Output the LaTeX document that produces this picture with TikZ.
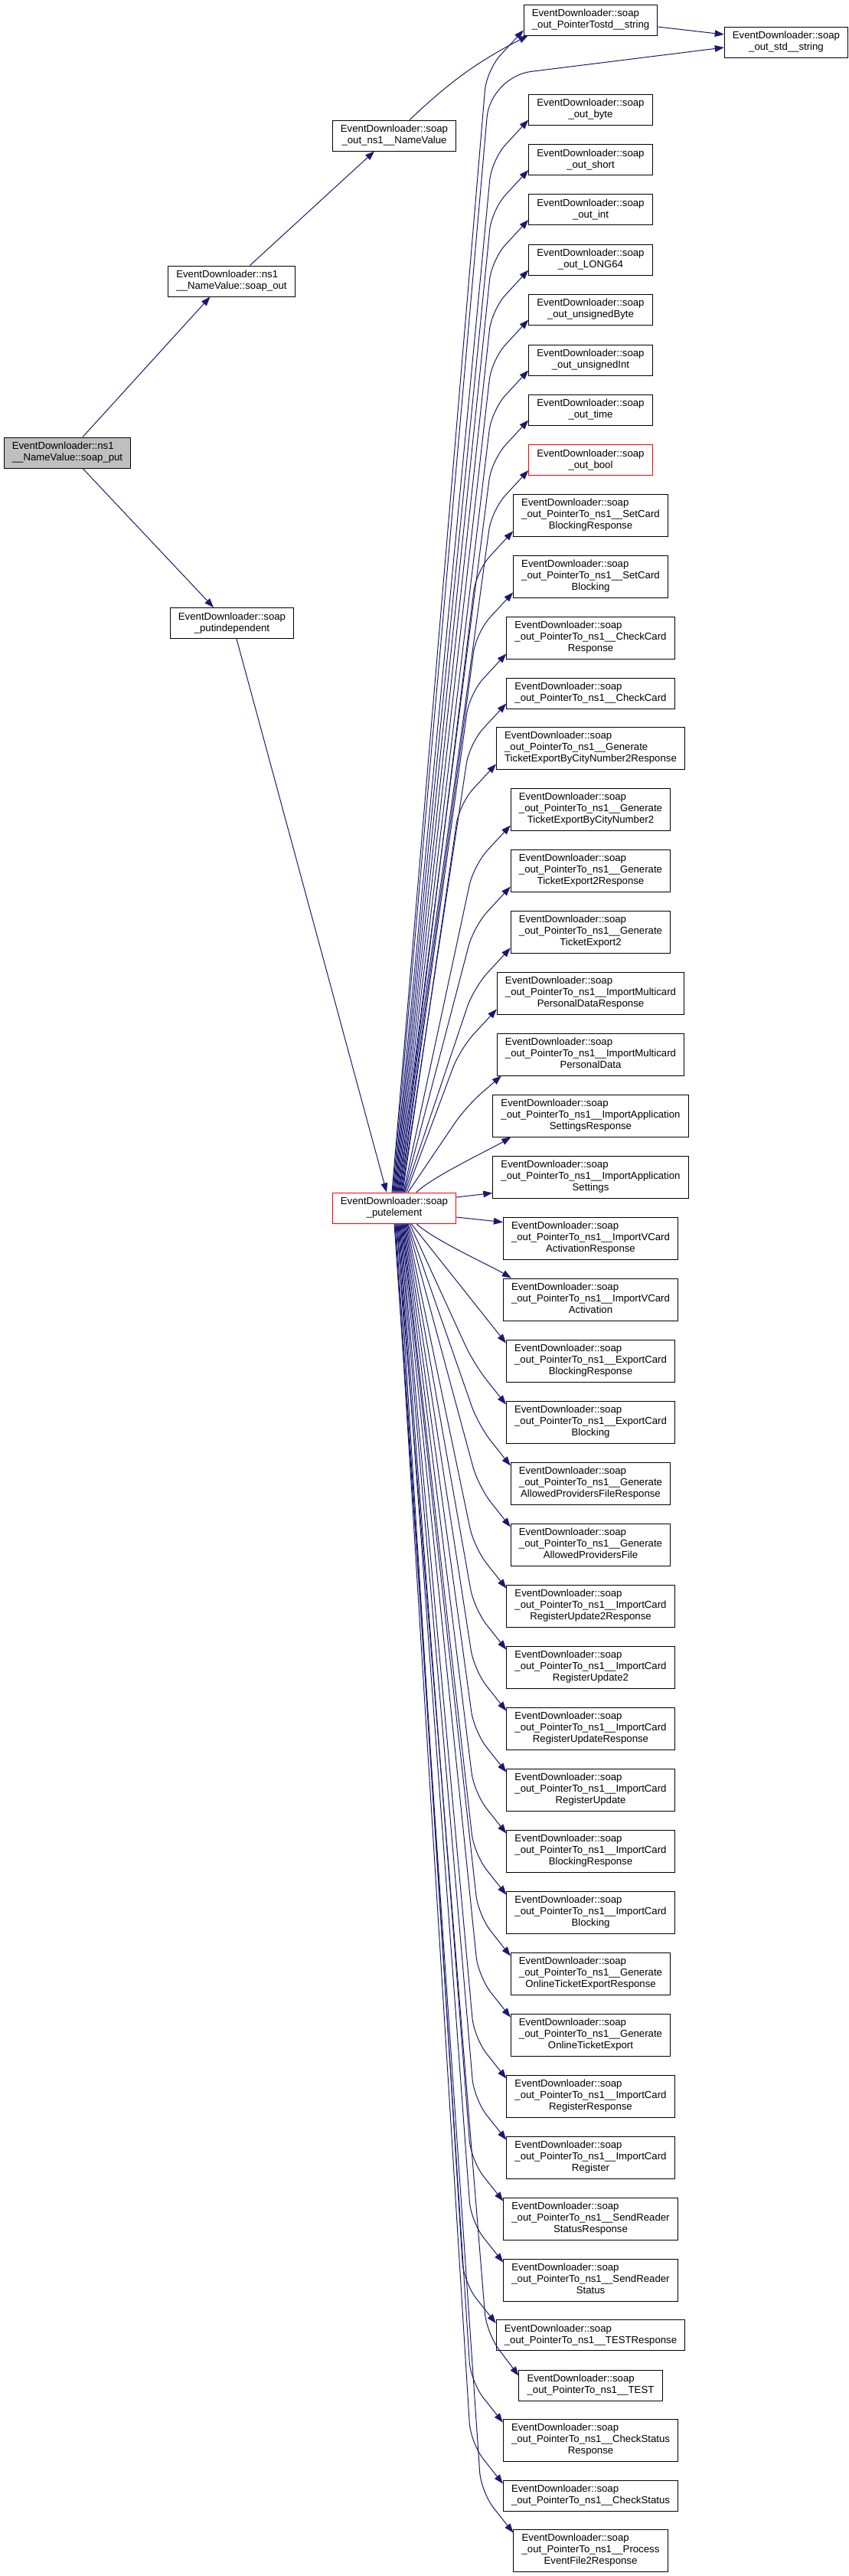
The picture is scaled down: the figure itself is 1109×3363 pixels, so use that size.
\documentclass[tikz,border=0pt]{standalone}
\usepackage{fontspec}
\setmainfont{Liberation Sans}
\usepackage{tikz}
\usetikzlibrary{arrows.meta}
\definecolor{callblue}{HTML}{191970}
\definecolor{selgrey}{HTML}{BFBFBF}
\newcommand{\lbltwo}[2]{\begin{tabular}{@{}l@{}}#1\\\multicolumn{1}{@{}c@{}}{#2}\end{tabular}}
\newcommand{\lblthree}[3]{\begin{tabular}{@{}l@{}}#1\\#2\\\multicolumn{1}{@{}c@{}}{#3}\end{tabular}}
\begin{document}
\begin{tikzpicture}[x=0.75pt,y=-0.75pt,
	fn/.style={draw=black,fill=white,line width=0.75pt,inner xsep=8pt,inner ysep=3.75pt,font=\fontsize{9.9pt}{11.25pt}\selectfont},
	fnred/.style={fn,draw=red},
	fnsel/.style={fn,fill=selgrey},
	call/.style={draw=callblue,line width=0.75pt,-{Triangle[length=9pt,width=6.5pt]}},
	fan/.style={call,rounded corners=20pt}]
		\useasboundingbox (0,0) rectangle (1109,3363);
		% callers
		\node[fnsel](put) at (88,591){\lbltwo{EventDownloader::ns1}{\_\_NameValue::soap\_put}};
		\node[fn](sout) at (302.5,367){\lbltwo{EventDownloader::ns1}{\_\_NameValue::soap\_out}};
		\node[fn](indep) at (303,813.5){\lbltwo{EventDownloader::soap}{\_putindependent}};
		\node[fn](nv) at (515,177){\lbltwo{EventDownloader::soap}{\_out\_ns1\_\_NameValue}};
		\node[fnred](pe) at (515,1577){\lbltwo{EventDownloader::soap}{\_putelement}};
		\node[fn](ptr) at (771.5,26){\lbltwo{EventDownloader::soap}{\_out\_PointerTostd\_\_string}};
		\node[fn](stdstr) at (1027,55){\lbltwo{EventDownloader::soap}{\_out\_std\_\_string}};
		% simple types
		\node[fn](byte) at (771.5,143){\lbltwo{EventDownloader::soap}{\_out\_byte}};
		\node[fn](short) at (771.5,208.5){\lbltwo{EventDownloader::soap}{\_out\_short}};
		\node[fn](int) at (771.5,273.5){\lbltwo{EventDownloader::soap}{\_out\_int}};
		\node[fn](long) at (771.5,339){\lbltwo{EventDownloader::soap}{\_out\_LONG64}};
		\node[fn](ubyte) at (771.5,404){\lbltwo{EventDownloader::soap}{\_out\_unsignedByte}};
		\node[fn](uint) at (771.5,470){\lbltwo{EventDownloader::soap}{\_out\_unsignedInt}};
		\node[fn](time) at (771.5,535){\lbltwo{EventDownloader::soap}{\_out\_time}};
		\node[fnred](bool) at (771.5,600.5){\lbltwo{EventDownloader::soap}{\_out\_bool}};
		% pointer types
		\node[fn](scbr) at (771.5,672.5){\lblthree{EventDownloader::soap}{\_out\_PointerTo\_ns1\_\_SetCard}{BlockingResponse}};
		\node[fn](scb) at (771.5,752.5){\lblthree{EventDownloader::soap}{\_out\_PointerTo\_ns1\_\_SetCard}{Blocking}};
		\node[fn](ccr) at (771.5,832.5){\lblthree{EventDownloader::soap}{\_out\_PointerTo\_ns1\_\_CheckCard}{Response}};
		\node[fn](cc) at (771.5,905){\lbltwo{EventDownloader::soap}{\_out\_PointerTo\_ns1\_\_CheckCard}};
		\node[fn](gcnr) at (771.5,976.5){\lblthree{EventDownloader::soap}{\_out\_PointerTo\_ns1\_\_Generate}{TicketExportByCityNumber2Response}};
		\node[fn](gcn) at (771.5,1056.5){\lblthree{EventDownloader::soap}{\_out\_PointerTo\_ns1\_\_Generate}{TicketExportByCityNumber2}};
		\node[fn](gter) at (771.5,1136.5){\lblthree{EventDownloader::soap}{\_out\_PointerTo\_ns1\_\_Generate}{TicketExport2Response}};
		\node[fn](gte) at (771.5,1216.5){\lblthree{EventDownloader::soap}{\_out\_PointerTo\_ns1\_\_Generate}{TicketExport2}};
		\node[fn](impdr) at (771.5,1296.5){\lblthree{EventDownloader::soap}{\_out\_PointerTo\_ns1\_\_ImportMulticard}{PersonalDataResponse}};
		\node[fn](impd) at (771.5,1376.5){\lblthree{EventDownloader::soap}{\_out\_PointerTo\_ns1\_\_ImportMulticard}{PersonalData}};
		\node[fn](iasr) at (771.5,1456.5){\lblthree{EventDownloader::soap}{\_out\_PointerTo\_ns1\_\_ImportApplication}{SettingsResponse}};
		\node[fn](ias) at (771.5,1536.5){\lblthree{EventDownloader::soap}{\_out\_PointerTo\_ns1\_\_ImportApplication}{Settings}};
		\node[fn](ivcar) at (771.5,1616.5){\lblthree{EventDownloader::soap}{\_out\_PointerTo\_ns1\_\_ImportVCard}{ActivationResponse}};
		\node[fn](ivca) at (771.5,1696.5){\lblthree{EventDownloader::soap}{\_out\_PointerTo\_ns1\_\_ImportVCard}{Activation}};
		\node[fn](ecbr) at (771.5,1776.5){\lblthree{EventDownloader::soap}{\_out\_PointerTo\_ns1\_\_ExportCard}{BlockingResponse}};
		\node[fn](ecb) at (771.5,1856.5){\lblthree{EventDownloader::soap}{\_out\_PointerTo\_ns1\_\_ExportCard}{Blocking}};
		\node[fn](gapfr) at (771.5,1936.5){\lblthree{EventDownloader::soap}{\_out\_PointerTo\_ns1\_\_Generate}{AllowedProvidersFileResponse}};
		\node[fn](gapf) at (771.5,2016.5){\lblthree{EventDownloader::soap}{\_out\_PointerTo\_ns1\_\_Generate}{AllowedProvidersFile}};
		\node[fn](icrutr) at (771.5,2096.5){\lblthree{EventDownloader::soap}{\_out\_PointerTo\_ns1\_\_ImportCard}{RegisterUpdate2Response}};
		\node[fn](icrut) at (771.5,2176.5){\lblthree{EventDownloader::soap}{\_out\_PointerTo\_ns1\_\_ImportCard}{RegisterUpdate2}};
		\node[fn](icrur) at (771.5,2256.5){\lblthree{EventDownloader::soap}{\_out\_PointerTo\_ns1\_\_ImportCard}{RegisterUpdateResponse}};
		\node[fn](icru) at (771.5,2336.5){\lblthree{EventDownloader::soap}{\_out\_PointerTo\_ns1\_\_ImportCard}{RegisterUpdate}};
		\node[fn](icbr) at (771.5,2416.5){\lblthree{EventDownloader::soap}{\_out\_PointerTo\_ns1\_\_ImportCard}{BlockingResponse}};
		\node[fn](icb) at (771.5,2496.5){\lblthree{EventDownloader::soap}{\_out\_PointerTo\_ns1\_\_ImportCard}{Blocking}};
		\node[fn](goter) at (771.5,2576.5){\lblthree{EventDownloader::soap}{\_out\_PointerTo\_ns1\_\_Generate}{OnlineTicketExportResponse}};
		\node[fn](gote) at (771.5,2656.5){\lblthree{EventDownloader::soap}{\_out\_PointerTo\_ns1\_\_Generate}{OnlineTicketExport}};
		\node[fn](icrr) at (771.5,2736.5){\lblthree{EventDownloader::soap}{\_out\_PointerTo\_ns1\_\_ImportCard}{RegisterResponse}};
		\node[fn](icr) at (771.5,2816.5){\lblthree{EventDownloader::soap}{\_out\_PointerTo\_ns1\_\_ImportCard}{Register}};
		\node[fn](srsr) at (771.5,2896.5){\lblthree{EventDownloader::soap}{\_out\_PointerTo\_ns1\_\_SendReader}{StatusResponse}};
		\node[fn](srs) at (771.5,2976.5){\lblthree{EventDownloader::soap}{\_out\_PointerTo\_ns1\_\_SendReader}{Status}};
		\node[fn](testr) at (771.5,3048.5){\lbltwo{EventDownloader::soap}{\_out\_PointerTo\_ns1\_\_TESTResponse}};
		\node[fn](test) at (771.5,3114){\lbltwo{EventDownloader::soap}{\_out\_PointerTo\_ns1\_\_TEST}};
		\node[fn](csr) at (771.5,3185.5){\lblthree{EventDownloader::soap}{\_out\_PointerTo\_ns1\_\_CheckStatus}{Response}};
		\node[fn](cs) at (771.5,3258){\lbltwo{EventDownloader::soap}{\_out\_PointerTo\_ns1\_\_CheckStatus}};
		\node[fn](pefr) at (771.5,3329.5){\lblthree{EventDownloader::soap}{\_out\_PointerTo\_ns1\_\_Process}{EventFile2Response}};
		% calls on the left
		\draw[call]([shift={(20,0)}]put.north)--([shift={(-28,0)}]sout.south);
		\draw[call]([shift={(20,0)}]put.south)--([shift={(-24,0)}]indep.north);
		\draw[call]([shift={(24,0)}]sout.north)--([shift={(-26,0)}]nv.south);
		\draw[call]([shift={(6,0)}]indep.south)--([shift={(-10,0)}]pe.north);
		\draw[call]([shift={(20,0)}]nv.north)to[bend left=8]([shift={(6,0)}]ptr.south west);
		\draw[call]([shift={(0,9)}]ptr.east)--([shift={(0,-10)}]stdstr.west);
		% putelement upwards
		\draw[fan]([shift={(-3,0)}]pe.north)--([shift={(-48,45)}]ptr.south west)--([shift={(0,-7)}]ptr.south west);
		\draw[fan,rounded corners=40pt]([shift={(-2,0)}]pe.north)--([shift={(-305,45)}]stdstr.west)--([shift={(0,7)}]stdstr.west);
		\draw[fan]([shift={(-1,0)}]pe.north)--([shift={(-48,45)}]byte.south west)--([shift={(0,-7)}]byte.south west);
		\draw[fan]([shift={(0,0)}]pe.north)--([shift={(-48,45)}]short.south west)--([shift={(0,-7)}]short.south west);
		\draw[fan]([shift={(1,0)}]pe.north)--([shift={(-48,45)}]int.south west)--([shift={(0,-7)}]int.south west);
		\draw[fan]([shift={(2,0)}]pe.north)--([shift={(-48,45)}]long.south west)--([shift={(0,-7)}]long.south west);
		\draw[fan]([shift={(3,0)}]pe.north)--([shift={(-48,45)}]ubyte.south west)--([shift={(0,-7)}]ubyte.south west);
		\draw[fan]([shift={(4,0)}]pe.north)--([shift={(-48,45)}]uint.south west)--([shift={(0,-7)}]uint.south west);
		\draw[fan]([shift={(5,0)}]pe.north)--([shift={(-48,45)}]time.south west)--([shift={(0,-7)}]time.south west);
		\draw[fan]([shift={(6,0)}]pe.north)--([shift={(-48,45)}]bool.south west)--([shift={(0,-7)}]bool.south west);
		\draw[fan]([shift={(7,0)}]pe.north)--([shift={(-48,45)}]scbr.south west)--([shift={(0,-7)}]scbr.south west);
		\draw[fan]([shift={(8,0)}]pe.north)--([shift={(-48,45)}]scb.south west)--([shift={(0,-7)}]scb.south west);
		\draw[fan]([shift={(9,0)}]pe.north)--([shift={(-48,45)}]ccr.south west)--([shift={(0,-7)}]ccr.south west);
		\draw[fan]([shift={(10,0)}]pe.north)--([shift={(-48,45)}]cc.south west)--([shift={(0,-7)}]cc.south west);
		\draw[fan]([shift={(11,0)}]pe.north)--([shift={(-48,45)}]gcnr.south west)--([shift={(0,-7)}]gcnr.south west);
		\draw[fan]([shift={(12,0)}]pe.north)--([shift={(-48,45)}]gcn.south west)--([shift={(0,-7)}]gcn.south west);
		\draw[fan]([shift={(13,0)}]pe.north)--([shift={(-48,45)}]gter.south west)--([shift={(0,-7)}]gter.south west);
		\draw[fan]([shift={(14,0)}]pe.north)--([shift={(-48,45)}]gte.south west)--([shift={(0,-7)}]gte.south west);
		\draw[fan]([shift={(16,0)}]pe.north)--([shift={(-48,45)}]impdr.south west)--([shift={(0,-7)}]impdr.south west);
		\draw[fan]([shift={(18,0)}]pe.north)--([shift={(-40,40)}]impd.south west)--([shift={(6,0)}]impd.south west);
		\draw[call]([shift={(29,0)}]pe.north)..controls +(20,-20) and +(-25,15)..([shift={(24,0)}]iasr.south west);
		\draw[call]([shift={(0,-14)}]pe.east)--([shift={(0,-7)}]ias.south west);
		% putelement downwards
		\draw[call]([shift={(0,12)}]pe.east)--([shift={(0,7)}]ivcar.north west);
		\draw[call]([shift={(29,0)}]pe.south)..controls +(20,20) and +(-25,-15)..([shift={(11,0)}]ivca.north west);
		\draw[fan]([shift={(22,0)}]pe.south)--([shift={(-42,-48)}]ecbr.north west)--([shift={(0,5)}]ecbr.north west);
		\draw[fan]([shift={(20,0)}]pe.south)--([shift={(-42,-48)}]ecb.north west)--([shift={(0,5)}]ecb.north west);
		\draw[fan]([shift={(18,0)}]pe.south)--([shift={(-42,-48)}]gapfr.north west)--([shift={(0,5)}]gapfr.north west);
		\draw[fan]([shift={(17,0)}]pe.south)--([shift={(-42,-48)}]gapf.north west)--([shift={(0,5)}]gapf.north west);
		\draw[fan]([shift={(16,0)}]pe.south)--([shift={(-42,-48)}]icrutr.north west)--([shift={(0,5)}]icrutr.north west);
		\draw[fan]([shift={(15,0)}]pe.south)--([shift={(-42,-48)}]icrut.north west)--([shift={(0,5)}]icrut.north west);
		\draw[fan]([shift={(14,0)}]pe.south)--([shift={(-42,-48)}]icrur.north west)--([shift={(0,5)}]icrur.north west);
		\draw[fan]([shift={(13,0)}]pe.south)--([shift={(-42,-48)}]icru.north west)--([shift={(0,5)}]icru.north west);
		\draw[fan]([shift={(12,0)}]pe.south)--([shift={(-42,-48)}]icbr.north west)--([shift={(0,5)}]icbr.north west);
		\draw[fan]([shift={(11,0)}]pe.south)--([shift={(-42,-48)}]icb.north west)--([shift={(0,5)}]icb.north west);
		\draw[fan]([shift={(10,0)}]pe.south)--([shift={(-42,-48)}]goter.north west)--([shift={(0,5)}]goter.north west);
		\draw[fan]([shift={(9,0)}]pe.south)--([shift={(-42,-48)}]gote.north west)--([shift={(0,5)}]gote.north west);
		\draw[fan]([shift={(8,0)}]pe.south)--([shift={(-42,-48)}]icrr.north west)--([shift={(0,5)}]icrr.north west);
		\draw[fan]([shift={(7,0)}]pe.south)--([shift={(-42,-48)}]icr.north west)--([shift={(0,5)}]icr.north west);
		\draw[fan]([shift={(6,0)}]pe.south)--([shift={(-42,-48)}]srsr.north west)--([shift={(0,5)}]srsr.north west);
		\draw[fan]([shift={(5,0)}]pe.south)--([shift={(-42,-48)}]srs.north west)--([shift={(0,5)}]srs.north west);
		\draw[fan]([shift={(4,0)}]pe.south)--([shift={(-42,-48)}]testr.north west)--([shift={(0,5)}]testr.north west);
		\draw[fan]([shift={(3,0)}]pe.south)--([shift={(-42,-48)}]test.north west)--([shift={(0,8)}]test.north west);
		\draw[fan]([shift={(2,0)}]pe.south)--([shift={(-42,-48)}]csr.north west)--([shift={(0,5)}]csr.north west);
		\draw[fan]([shift={(1,0)}]pe.south)--([shift={(-42,-48)}]cs.north west)--([shift={(0,5)}]cs.north west);
		\draw[fan]([shift={(0,0)}]pe.south)--([shift={(-42,-48)}]pefr.north west)--([shift={(0,5)}]pefr.north west);
\end{tikzpicture}
\end{document}
